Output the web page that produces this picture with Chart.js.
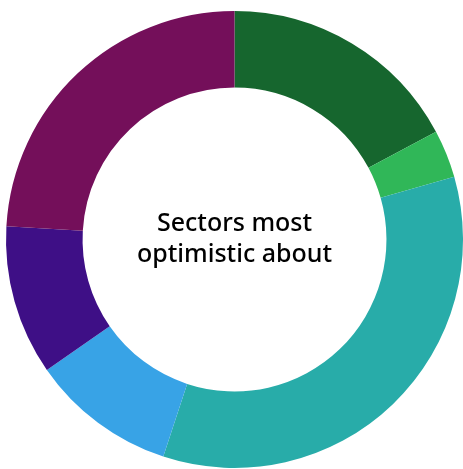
<!DOCTYPE html>
<html>
<head>
<meta charset="utf-8">
<script src="https://cdn.jsdelivr.net/npm/chart.js@4"></script>
<style>
  html, body { margin: 0; padding: 0; background: #ffffff; }
  #sector-chart { display: block; }
</style>
</head>
<body>
<canvas id="sector-chart" width="463" height="469"></canvas>
<script>
// Dữ liệu biểu đồ
const sectorLabels = ["Sector 1", "Sector 2", "Sector 3", "Sector 4", "Sector 5", "Sector 6"];
const sectorValues = [17.2, 3.4, 34.5, 10.3, 10.6, 24.1];
const sectorColors = ["#16662e", "#30b758", "#28aca9", "#38a3e6", "#3e0f86", "#740f5a"];
const centerLines = ["Sectors most", "optimistic about"];

// Plugin vẽ chữ ở giữa vòng
const centerTextPlugin = {
    id: "centerText",
    afterDraw(chart) {
        const c = chart.ctx;
        const meta = chart.getDatasetMeta(0).data[0];
        if (!meta) return;
        c.save();
        c.fillStyle = "#000000";
        c.font = "500 25px 'Noto Sans'";
        c.textAlign = "center";
        c.textBaseline = "alphabetic";
        c.fillText(centerLines[0], meta.x, 231);
        c.fillText(centerLines[1], meta.x, 262);
        c.restore();
    }
};

const ctx = document.getElementById("sector-chart").getContext("2d");
new Chart(ctx, {
    type: "doughnut",
    data: {
        labels: sectorLabels,
        datasets: [
            {
                data: sectorValues,
                backgroundColor: sectorColors,
                borderWidth: 0
            }
        ]
    },
    options: {
        responsive: false,
        animation: false,
        cutout: "66.5%",
        layout: {
            padding: { left: 6, right: 0, top: 11, bottom: 1 }
        },
        plugins: {
            legend: { display: false },
            tooltip: { enabled: false }
        }
    },
    plugins: [centerTextPlugin]
});
</script>
</body>
</html>
